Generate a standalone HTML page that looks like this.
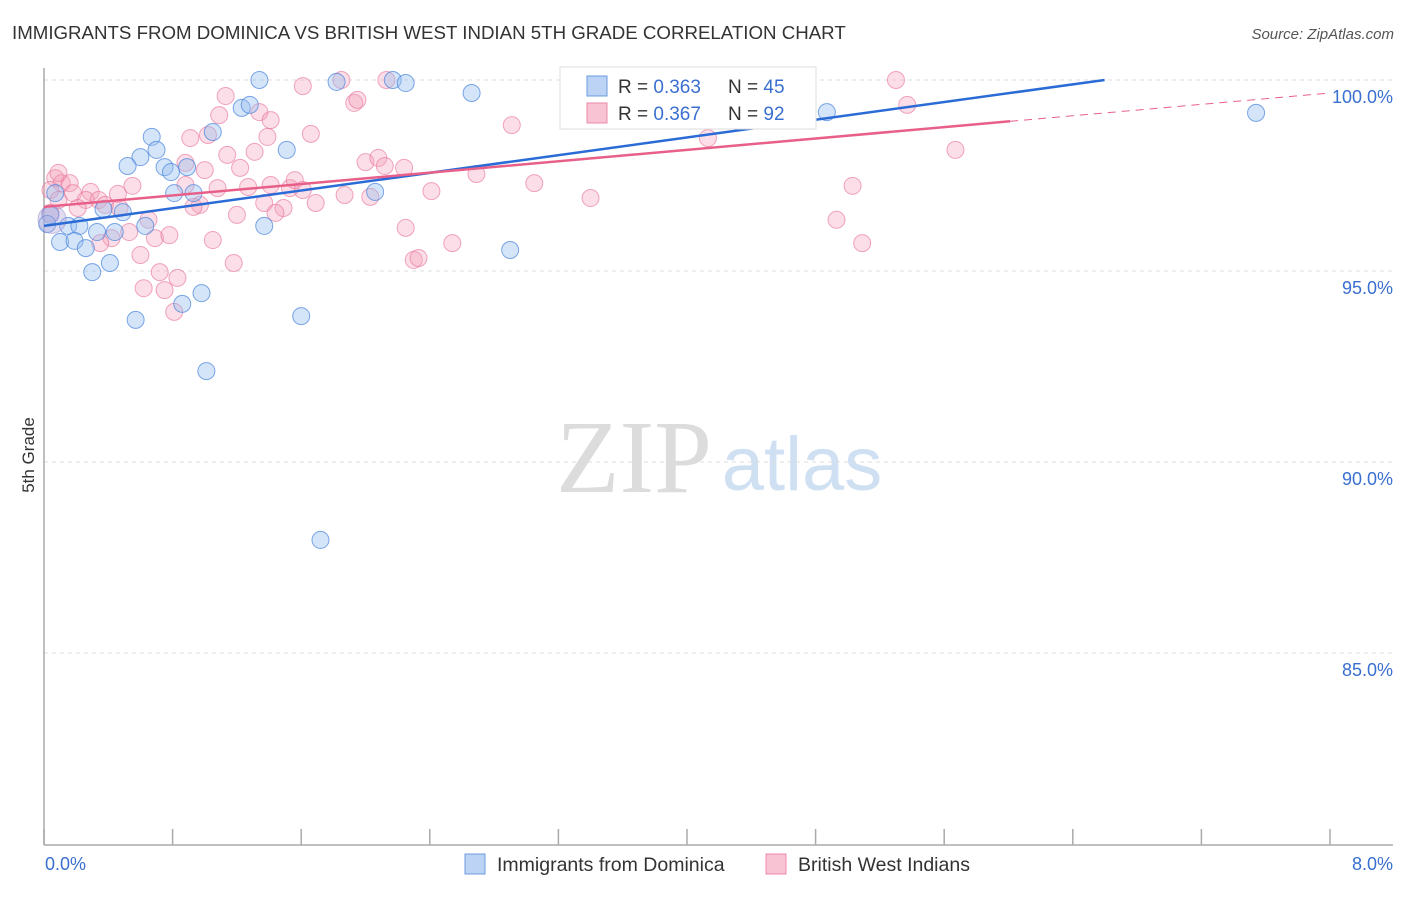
<!DOCTYPE html>
<html><head><meta charset="utf-8"><style>
body{margin:0;background:#fff;font-family:"Liberation Sans",sans-serif}
svg text{font-family:"Liberation Sans",sans-serif}
</style></head><body>
<svg id="chart" width="1406" height="892" viewBox="0 0 1406 892" xmlns="http://www.w3.org/2000/svg">
<text x="12" y="39" font-size="18.7" fill="#333">IMMIGRANTS FROM DOMINICA VS BRITISH WEST INDIAN 5TH GRADE CORRELATION CHART</text>
<text x="1394" y="39" font-size="15" fill="#555" text-anchor="end" font-style="italic">Source: ZipAtlas.com</text>
<g>
<text x="634" y="492" font-size="104" fill="#dcdcdc" text-anchor="middle" style="font-family:'Liberation Serif',serif">ZIP</text>
<text x="802" y="490" font-size="76" fill="#cfe0f3" text-anchor="middle">atlas</text>
</g>
<g id="grid"></g>
<g id="axes"></g>
<g id="marks"></g>
<g id="trends"></g>
<text transform="translate(34,455) rotate(-90)" font-size="17" fill="#333" text-anchor="middle">5th Grade</text>
<text x="45" y="870" font-size="18" fill="#3a6fd0">0.0%</text>
<text x="1393" y="870" font-size="18" fill="#3a6fd0" text-anchor="end">8.0%</text>
<g>
<rect x="560" y="67" width="256" height="62" fill="#fff" stroke="#ddd"/>
<rect x="587" y="76" width="20" height="20" fill="#bcd3f5" stroke="#6b9be0"/>
<rect x="587" y="103" width="20" height="20" fill="#f8c3d3" stroke="#ec8aaa"/>
<text x="618" y="93" font-size="19" fill="#333">R = <tspan fill="#3a6fd0">0.363</tspan></text>
<text x="728" y="93" font-size="19" fill="#333">N = <tspan fill="#3a6fd0">45</tspan></text>
<text x="618" y="120" font-size="19" fill="#333">R = <tspan fill="#3a6fd0">0.367</tspan></text>
<text x="728" y="120" font-size="19" fill="#333">N = <tspan fill="#3a6fd0">92</tspan></text>
</g>
<g>
<rect x="465" y="854" width="20" height="20" fill="#bcd3f5" stroke="#6b9be0"/>
<text x="497" y="871" font-size="19.5" fill="#333">Immigrants from Dominica</text>
<rect x="766" y="854" width="20" height="20" fill="#f8c3d3" stroke="#ec8aaa"/>
<text x="798" y="871" font-size="19.5" fill="#333">British West Indians</text>
</g>
</svg>
<script>
const yTicks=[100,95,90,85];
const yTickLabels=["100.0%","95.0%","90.0%","85.0%"];
const xTicks=[0,0.8,1.6,2.4,3.2,4,4.8,5.6,6.4,7.2,8];
const blueX=[1.34,1.82,2.17,2.25,2.66,4.19,4.87,7.54,1.23,1.28,1.05,0.67,0.70,0.60,0.52,0.75,0.79,0.89,1.51,0.81,0.93,2.06,0.49,0.37,0.07,0.04,0.02,0.15,0.22,0.33,0.44,0.63,1.37,0.10,0.19,0.26,0.41,0.30,2.90,0.98,0.86,0.57,1.60,1.01,1.72];
const blueY=[100,99.95,100,99.92,99.66,100,99.16,99.14,99.27,99.35,98.64,98.51,98.17,97.98,97.75,97.72,97.59,97.72,98.17,97.04,97.04,97.07,96.54,96.62,97.04,96.47,96.23,96.18,96.18,96.02,96.02,96.18,96.18,95.76,95.79,95.60,95.21,94.97,95.55,94.42,94.14,93.72,93.82,92.38,87.96];
const pinkX=[0.07,0.11,0.16,0.04,0.09,0.18,0.29,0.26,0.34,0.21,0.38,0.46,0.55,0.47,0.65,0.53,0.42,0.35,0.69,0.78,0.60,0.72,0.83,0.62,0.75,0.81,0.88,0.91,0.88,1.00,1.08,0.97,0.93,1.05,1.02,1.09,1.13,1.14,1.22,1.27,1.20,1.18,1.31,1.34,1.41,1.39,1.41,1.37,1.49,1.44,1.53,1.56,1.61,1.66,1.61,1.69,1.85,1.93,1.95,1.87,2.00,2.08,2.12,2.03,2.13,2.24,2.25,2.30,2.33,2.41,2.54,2.69,2.91,3.05,3.40,3.38,4.13,4.93,5.03,5.09,5.30,5.37,5.67,0.04,0.09];
const pinkY=[97.43,97.30,97.30,97.12,96.86,97.04,97.07,96.86,96.86,96.65,96.73,97.02,97.23,96.65,96.34,96.02,95.86,95.73,95.86,95.94,95.42,94.97,94.82,94.55,94.50,93.93,97.25,98.48,97.83,97.64,97.17,96.73,96.68,95.81,98.56,99.08,99.58,98.04,97.70,97.20,96.47,95.21,98.12,99.16,98.95,98.51,97.25,96.78,96.65,96.52,97.17,97.38,99.84,98.59,97.12,96.78,100,99.40,99.48,96.99,97.85,97.96,97.75,96.94,100,97.70,96.13,95.29,95.34,97.09,95.73,97.54,98.82,97.30,96.91,99.42,98.48,96.34,97.23,95.73,100,99.35,98.17,96.52,97.57];
const blueTrend=[96.18,0.579];
const pinkTrend=[96.68,0.3725];
const NS="http://www.w3.org/2000/svg";
function sx(v){return 44+v/8*1286;}
function sy(v){return 80+(100-v)*38.2;}
function mk(t,a,p){const e=document.createElementNS(NS,t);for(const k in a)e.setAttribute(k,a[k]);p.appendChild(e);return e;}
const grid=document.getElementById('grid'),axes=document.getElementById('axes'),marks=document.getElementById('marks'),trends=document.getElementById('trends');
yTicks.forEach((t,i)=>{
 const l=mk('line',{x1:44,x2:1393,y1:sy(t),y2:sy(t),stroke:'#ddd','stroke-dasharray':'4,4'},grid);
 
 
 const tx=mk('text',{x:1393,y:sy(t)+23,'font-size':18,fill:'#3a6fd0','text-anchor':'end'},grid);
 tx.textContent=yTickLabels[i];
 
 
});
const ya=mk('line',{x1:44,x2:44,y1:68,y2:845,stroke:'#aaa','stroke-width':1.5},axes);


const xa=mk('line',{x1:44,x2:1393,y1:845,y2:845,stroke:'#aaa','stroke-width':1.5},axes);


xTicks.forEach(t=>{
 const k=mk('line',{x1:sx(t),x2:sx(t),y1:829,y2:845,stroke:'#aaa','stroke-width':1.5},axes);
 
 
});
pinkX.forEach((x,i)=>{
 const c=mk('circle',{cx:sx(x),cy:sy(pinkY[i]),r:8.5,fill:'rgba(244,160,187,0.35)',stroke:'rgba(232,110,150,0.6)','stroke-width':1},marks);
 
 
});
blueX.forEach((x,i)=>{
 const c=mk('circle',{cx:sx(x),cy:sy(blueY[i]),r:8.5,fill:'rgba(150,190,240,0.4)',stroke:'rgba(70,130,220,0.7)','stroke-width':1},marks);
 
 
});
const big=mk('circle',{cx:sx(0.05),cy:sy(96.35),r:14,fill:'rgba(180,170,220,0.4)',stroke:'rgba(150,140,200,0.5)'},marks);


const bEnd=(100-blueTrend[0])/blueTrend[1];
const bl=mk('line',{x1:sx(0),y1:sy(blueTrend[0]),x2:sx(bEnd),y2:sy(100),stroke:'#2a6bd6','stroke-width':2.5},trends);


const pSolid=6.01;
const pl=mk('line',{x1:sx(0),y1:sy(pinkTrend[0]),x2:sx(pSolid),y2:sy(pinkTrend[0]+pinkTrend[1]*pSolid),stroke:'#e8608a','stroke-width':2.5},trends);


const pd=mk('line',{x1:sx(pSolid),y1:sy(pinkTrend[0]+pinkTrend[1]*pSolid),x2:sx(8),y2:sy(pinkTrend[0]+pinkTrend[1]*8),stroke:'#e8608a','stroke-width':1,'stroke-dasharray':'8,6'},trends);


</script>
</body></html>
